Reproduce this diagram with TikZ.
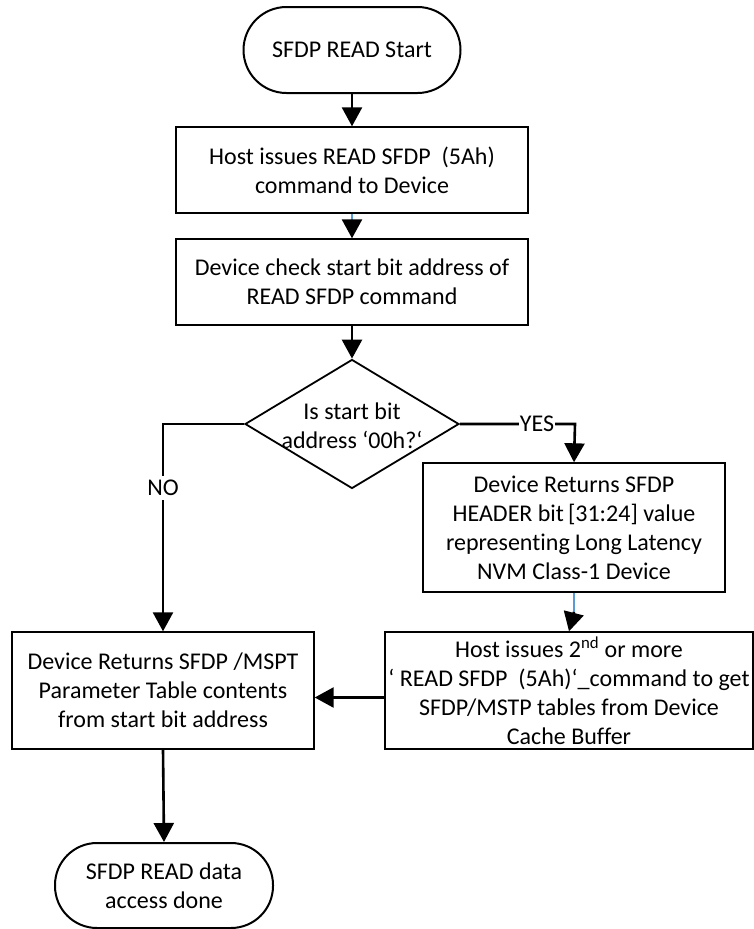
\documentclass[tikz,border=0pt]{standalone}
\usepackage{fontspec}
\setmainfont{Carlito}[Ligatures=NoCommon]
\usetikzlibrary{arrows.meta,shapes.geometric}
\definecolor{shaftblue}{HTML}{5B9BD5}
\tikzset{
  box/.style={draw, line width=1.4pt, inner sep=0pt, align=center, font=\fontsize{24}{29}\selectfont},
  term/.style={box, line width=2pt},
  conn/.style={line width=2.6pt, -{Triangle[width=20pt,length=19pt]}},
  blueshaft/.style={line width=2.6pt, shaftblue},
  lbl/.style={fill=white, inner sep=1pt, font=\fontsize{24}{29}\selectfont},
}
\begin{document}
\begin{tikzpicture}[x=1pt,y=-1pt]
\useasboundingbox (0,0) rectangle (754,929);
\node[term, minimum width=217pt, minimum height=86pt, rounded corners=43pt] (start) at (352,50) {SFDP READ Start};
\node[box, minimum width=352pt, minimum height=86pt] (b1) at (352,170) {Host issues READ SFDP\ \ (5Ah)\\command to Device};
\node[box, minimum width=352pt, minimum height=86pt] (b2) at (352,282) {Device check start bit address of\\READ SFDP command};
\node[draw, line width=1.8pt, diamond, minimum width=214pt, minimum height=129pt, inner sep=0pt] (dec) at (352,424) {};
\node[align=center, inner sep=0pt, font=\fontsize{24}{29}\selectfont] (dectext) at (352,426) {Is start bit\\address ‘00h?‘};
\node[box, minimum width=302pt, minimum height=129pt] (b3) at (574,527.5) {Device Returns SFDP\\HEADER bit\,[31:24] value\\representing Long Latency\\NVM Class-1 Device};
\node[box, minimum width=302pt, minimum height=117pt] (b4) at (163,690.5) {Device Returns SFDP /MSPT\\Parameter Table contents\\from start bit address};
\node[box, minimum width=368pt, minimum height=117pt] (b5) at (569,690.5) {Host issues 2\textsuperscript{nd} or more\\‘ READ SFDP\ \ (5Ah)‘\_command to get\\SFDP/MSTP tables from Device\\Cache Buffer};
\node[term, minimum width=218pt, minimum height=85pt, rounded corners=42pt] (end) at (164,885.5) {SFDP READ data\\access done};

\coordinate (yesbend) at (575,424);
\coordinate (nobend) at (163,424);
\coordinate (b1s) at (352,220);
\coordinate (b3s) at (574,612);

\draw[conn] (start.south) -- (b1.north);
\draw[blueshaft] (b1.south) -- (b1s);
\draw[conn] (b1s) -- (b2.north);
\draw[conn] (b2.south) -- (dec.north);
\draw[conn] (dec.east) -- (yesbend) -- (b3.north);
\node[lbl] (yes) at (537,424) {YES};
\draw[conn] (dec.west) -- (nobend) -- (b4.north);
\node[lbl, inner ysep=4pt] (no) at (163,488) {NO};
\draw[blueshaft] (b3.south) -- (b3s);
\draw[conn] (b3s) -- (b5.north);
\draw[conn] ([yshift=-7pt]b5.west) -- ([yshift=-7pt]b4.east);
\draw[conn] (b4.south) -- (end.north);
\end{tikzpicture}
\end{document}
